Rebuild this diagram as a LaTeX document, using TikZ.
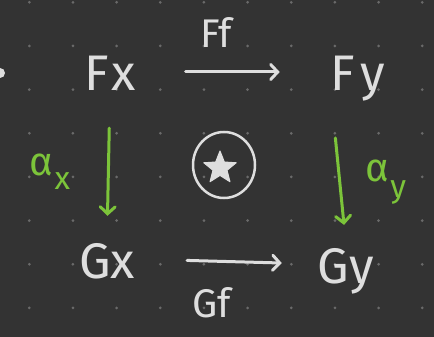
\documentclass[tikz,border=0pt]{standalone}
\usepackage{fontspec}
\setmainfont{Fira Sans}
\usetikzlibrary{arrows.meta,shapes.geometric}
\definecolor{bgc}{HTML}{333333}
\definecolor{dotc}{HTML}{6A6A6A}
\definecolor{ink}{HTML}{DEDEDE}
\definecolor{grn}{HTML}{7CC43A}
\tikzset{
  obj/.style={inner sep=0pt, text height=38pt, text depth=0pt, text=ink, font=\fontsize{50}{50}\selectfont},
  lbl/.style={inner sep=0pt, text=ink, font=\fontsize{40}{40}\selectfont},
  glbl/.style={inner sep=0pt, text=grn, font=\fontsize{40}{40}\selectfont},
  warr/.style={draw=ink, line width=3pt, line cap=round, -{Straight Barb[length=7pt,width=15pt,line cap=round]}},
  garr/.style={draw=grn, line width=3pt, line cap=round, -{Straight Barb[length=7pt,width=15pt,line cap=round]}},
  dotg/.style={fill=dotc, draw=none}
}
\begin{document}
\begin{tikzpicture}[x=1pt,y=-1pt]
\fill[bgc] (0,0) rectangle (434,337);
\useasboundingbox (0,0) rectangle (434,337);
% dot grid
\foreach \i in {0,...,9}{
  \foreach \j in {0,...,7}{
    \fill[dotg] ({29.3+43.66*\i},{2.3+43.66*\j}) circle (1.5);
  }
}
% partial blob at the left edge
\fill[ink] (0,73) circle (5);
% objects
\node[obj, anchor=base] (Fx) at (110,91) {F\kern2pt x};
\node[obj, anchor=base] (Fy) at (358,91) {F\kern5pt y};
\node[obj, anchor=base] (Gx) at (107,278) {Gx};
\node[obj, anchor=base] (Gy) at (346,283) {Gy};
% horizontal arrows
\draw[warr, shorten <=50pt, shorten >=51pt] (Fx.east) -- (Fy.west);
\draw[warr, shorten <=52pt, shorten >=36pt] (Gx.east) -- (Gy.west);
\node[lbl] (Ff) at (216,33) {Ff};
\node[lbl] (Gf) at (212,303) {Gf};
% vertical green arrows
\draw[garr, shorten <=37pt, shorten >=24pt] (Fx.south) -- (Gx.north);
\draw[garr, shorten <=47pt, shorten >=20pt] (Fy.south west) -- (Gy.north);
\node[glbl] (ax) at (50,172) {α\kern1pt\raisebox{-14pt}{\fontsize{32}{32}\selectfont x}};
\node[glbl] (ay) at (386,182) {α\kern1pt\raisebox{-16pt}{\fontsize{32}{32}\selectfont y}};
% circled star
\node[draw=ink, line width=2.5pt, ellipse, minimum width=62pt, minimum height=66pt, inner sep=0pt] (c) at (224,165) {};
\node[star, star points=5, star point ratio=2.3, fill=ink, draw=ink, line width=1pt, line join=round, minimum size=34pt, inner sep=0pt] (st) at (220,168) {};
\end{tikzpicture}
\end{document}
